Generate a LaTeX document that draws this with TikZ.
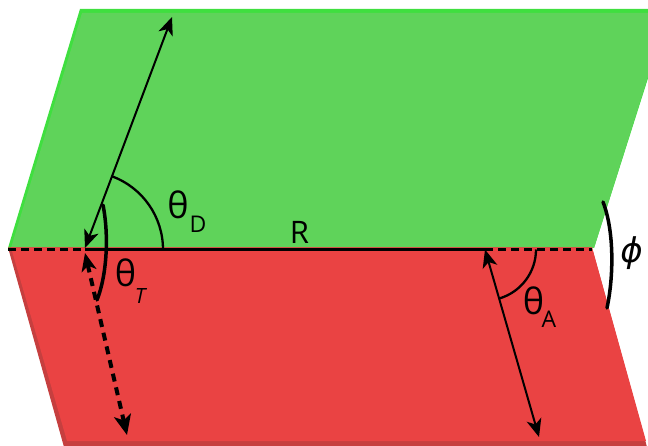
\documentclass[tikz,border=0pt]{standalone}
\usepackage{fontspec}
\setmainfont{Open Sans}
\newfontfamily\dejavu{DejaVu Sans}
\usetikzlibrary{arrows.meta}
\definecolor{gfill}{HTML}{5FD35A}
\definecolor{gband}{HTML}{3FDF3F}
\definecolor{rfill}{HTML}{EA4343}
\definecolor{rband}{HTML}{C63F3F}
\tikzset{
  lbl/.style={inner sep=0pt, font=\fontsize{36}{36}\selectfont},
  sub/.style={inner sep=0pt, font=\fontsize{23}{23}\selectfont},
  vec/.style={line width=2pt, {Stealth[length=18pt,width=15pt,inset=5pt]}-{Stealth[length=18pt,width=15pt,inset=5pt]}},
  base/.style={line width=2.3pt},
  dsh/.style={line width=2.3pt, dash pattern=on 8pt off 5pt},
  thick arc/.style={line width=3.5pt, line cap=round},
}
\begin{document}
\begin{tikzpicture}[x=1pt,y=1pt]
\useasboundingbox (0,0) rectangle (648,445);
\clip (0,0) rectangle (648,445);
% green plane
\fill[gband] (8,197) -- (80,436) -- (670,436) -- (594,197) -- cycle;
\fill[gfill] (11,197) -- (82,432) -- (668,432) -- (594,197) -- cycle;
% red plane
\fill[rband] (8,197.5) -- (592,197.5) -- (647,-2) -- (64,-2) -- cycle;
\fill[rfill] (11,197.5) -- (592,197.5) -- (646,4) -- (67,4) -- cycle;
% base line
\coordinate (L) at (8,195.5);
\coordinate (P) at (85,195.5);
\coordinate (Q) at (485,195.5);
\coordinate (E) at (592,195.5);
\draw[dsh] (L) -- (P);
\draw[base] (P) -- (Q);
\draw[dsh] (Q) -- (E);
\node[inner sep=0pt, font=\fontsize{31}{31}\selectfont] (R) at (299.5,213) {R};
% theta D
\coordinate (Dtop) at (172,428);
\coordinate (Dbot) at (85,197);
\draw[vec] (Dbot) -- (Dtop);
\draw[base] (163,195.5) arc[start angle=0, end angle=69.5, radius=78];
\node[lbl] (thD) at (178,240.5) {θ};
\node[sub] (sD) at (198,220.5) {D};
% theta T (transmitted, dashed)
\coordinate (Ttop) at (85,192);
\coordinate (Tbot) at (127,10);
\draw[line width=4pt, dash pattern=on 8pt off 6pt, {Stealth[length=18pt,width=15pt,inset=5pt]}-{Stealth[length=20pt,width=17pt,inset=5pt]}] (Ttop) -- (Tbot);
\draw[thick arc] (103,240) .. controls (109,210) and (107,170) .. (97,145);
\node[lbl] (thT) at (125.5,172.5) {θ};
\node[inner sep=0pt, font=\fontsize{21}{21}\selectfont\itshape] (sT) at (140,148.5) {T};
% theta A
\coordinate (Atop) at (485,195.5);
\coordinate (Abot) at (539,8);
\draw[vec] (Abot) -- (Atop);
\draw[base] (536,195.5) arc[start angle=0, end angle=-73.9, radius=51];
\node[lbl] (thA) at (533.5,144.5) {θ};
\node[sub] (sA) at (549,125.5) {A};
% phi
\draw[thick arc] (603,243) .. controls (614,215) and (614,170) .. (607,137);
\node[inner sep=0pt, font=\fontsize{34}{34}\selectfont\dejavu\itshape] (phi) at (631.5,192) {ϕ};
\end{tikzpicture}
\end{document}
